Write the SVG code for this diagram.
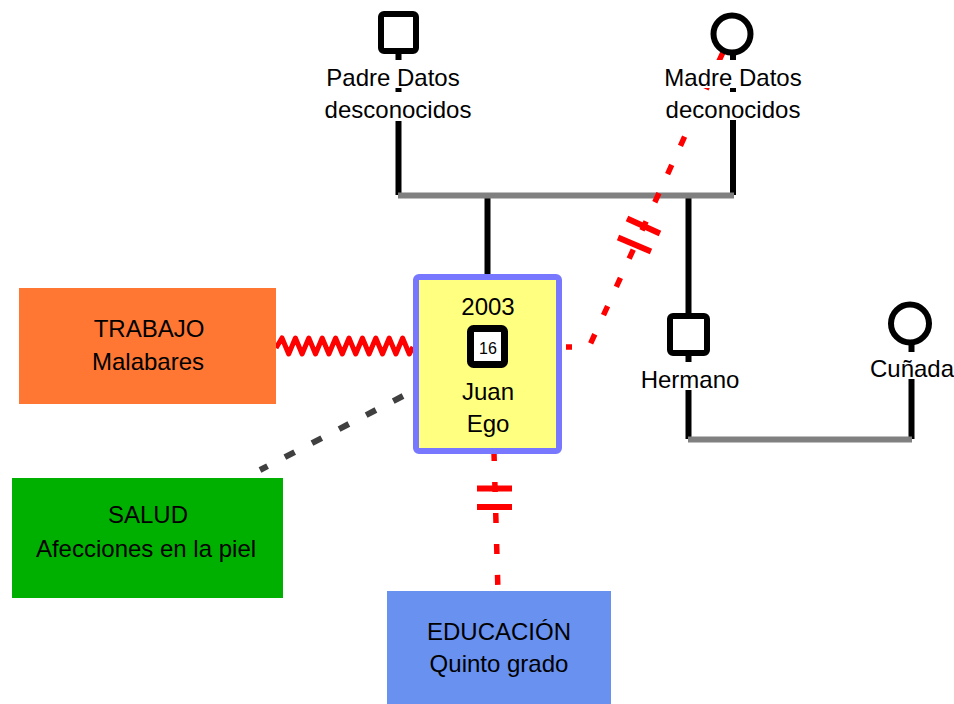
<svg xmlns="http://www.w3.org/2000/svg" width="954" height="704" viewBox="0 0 954 704">
<style>
text{font-family:"Liberation Sans",Arial,sans-serif;font-size:24px;fill:#000;text-anchor:middle}
.blk{stroke:#000;stroke-width:6;fill:none}
.gry{stroke:#808080;stroke-width:6;fill:none}
.red{stroke:#ff0000;stroke-width:5.5;fill:none;stroke-dasharray:10 21}
.bar{stroke:#ff0000;stroke-width:6;fill:none}
.lbl{fill:#fff}
.sym{fill:#fff;stroke:#000;stroke-width:6}
</style>
<rect width="954" height="704" fill="#fff"/>
<g id="connectors">
<line class="blk" x1="398.5" y1="50" x2="398.5" y2="195"/>
<line class="blk" x1="733" y1="52" x2="733" y2="195"/>
<line class="blk" x1="487.5" y1="195" x2="487.5" y2="276"/>
<line class="blk" x1="688.5" y1="195" x2="688.5" y2="316"/>
<line class="blk" x1="688.5" y1="352" x2="688.5" y2="439"/>
<line class="blk" x1="911.5" y1="342" x2="911.5" y2="439"/>
<line class="gry" x1="398" y1="195.5" x2="734" y2="195.5"/>
<line class="gry" x1="688" y1="439.5" x2="912" y2="439.5"/>
<path class="red" d="M566 347 L589 347 L724 50" stroke-dashoffset="4"/>
<line class="bar" x1="627" y1="218.5" x2="660" y2="233.5"/>
<line class="bar" x1="618" y1="237.5" x2="651" y2="251.5"/>
<line class="red" x1="494" y1="453" x2="498" y2="592" stroke-dasharray="9 19" stroke-dashoffset="2"/>
<line class="bar" x1="477" y1="488.5" x2="512" y2="488.5"/>
<line class="bar" x1="477" y1="507" x2="512" y2="507"/>
<path d="M276,348 L282,338 L288.7,354 L295.4,338 L302.1,354 L308.8,338 L315.5,354 L322.2,338 L328.9,354 L335.6,338 L342.3,354 L349,338 L355.7,354 L362.4,338 L369.1,354 L375.8,338 L382.5,354 L389.2,338 L395.9,354 L402.6,338 L409.3,354 L413,347" fill="none" stroke="#ff0000" stroke-width="5" stroke-linejoin="round"/>
<line x1="403" y1="396" x2="260" y2="470" stroke="#404040" stroke-width="6" stroke-dasharray="11 19.5"/>
</g>
<g id="padre">
<rect class="sym" x="381" y="14" width="35" height="37" rx="3"/>
<rect class="lbl" x="328" y="60" width="142" height="28"/>
<rect class="lbl" x="318" y="92" width="162" height="29"/>
<text x="393" y="86">Padre Datos</text>
<text x="398" y="118">desconocidos</text>
</g>
<g id="madre">
<circle class="sym" cx="732" cy="34" r="18.5"/>
<rect class="lbl" x="662" y="60" width="144" height="28"/>
<rect class="lbl" x="660" y="92" width="146" height="28"/>
<text x="733" y="86">Madre Datos</text>
<text x="733" y="118">deconocidos</text>
</g>
<g id="ego">
<rect x="416" y="277" width="143" height="174" rx="3" fill="#ffff80" stroke="#7777ff" stroke-width="6"/>
<text x="488" y="315">2003</text>
<rect x="470.5" y="328.5" width="34" height="36" rx="3" fill="#fff" stroke="#000" stroke-width="7"/>
<text x="488" y="354" style="font-size:16px">16</text>
<text x="488" y="400">Juan</text>
<text x="488" y="432">Ego</text>
</g>
<g id="hermano">
<rect class="sym" x="670" y="316" width="37" height="37" rx="3"/>
<rect class="lbl" x="638" y="362" width="104" height="28"/>
<text x="690" y="388">Hermano</text>
</g>
<g id="cunada">
<circle class="sym" cx="910" cy="323.5" r="19"/>
<rect class="lbl" x="866" y="352" width="88" height="27"/>
<text x="912" y="377">Cuñada</text>
</g>
<g id="trabajo">
<rect x="19" y="288" width="257" height="116" fill="#ff7733"/>
<text x="149" y="337">TRABAJO</text>
<text x="148" y="370">Malabares</text>
</g>
<g id="salud">
<rect x="12" y="478" width="271" height="120" fill="#00b000"/>
<text x="148" y="523">SALUD</text>
<text x="146" y="557">Afecciones en la piel</text>
</g>
<g id="educacion">
<rect x="387" y="591" width="224" height="113" fill="#6891f0"/>
<text x="499" y="640">EDUCACIÓN</text>
<text x="499" y="672">Quinto grado</text>
</g>
</svg>
